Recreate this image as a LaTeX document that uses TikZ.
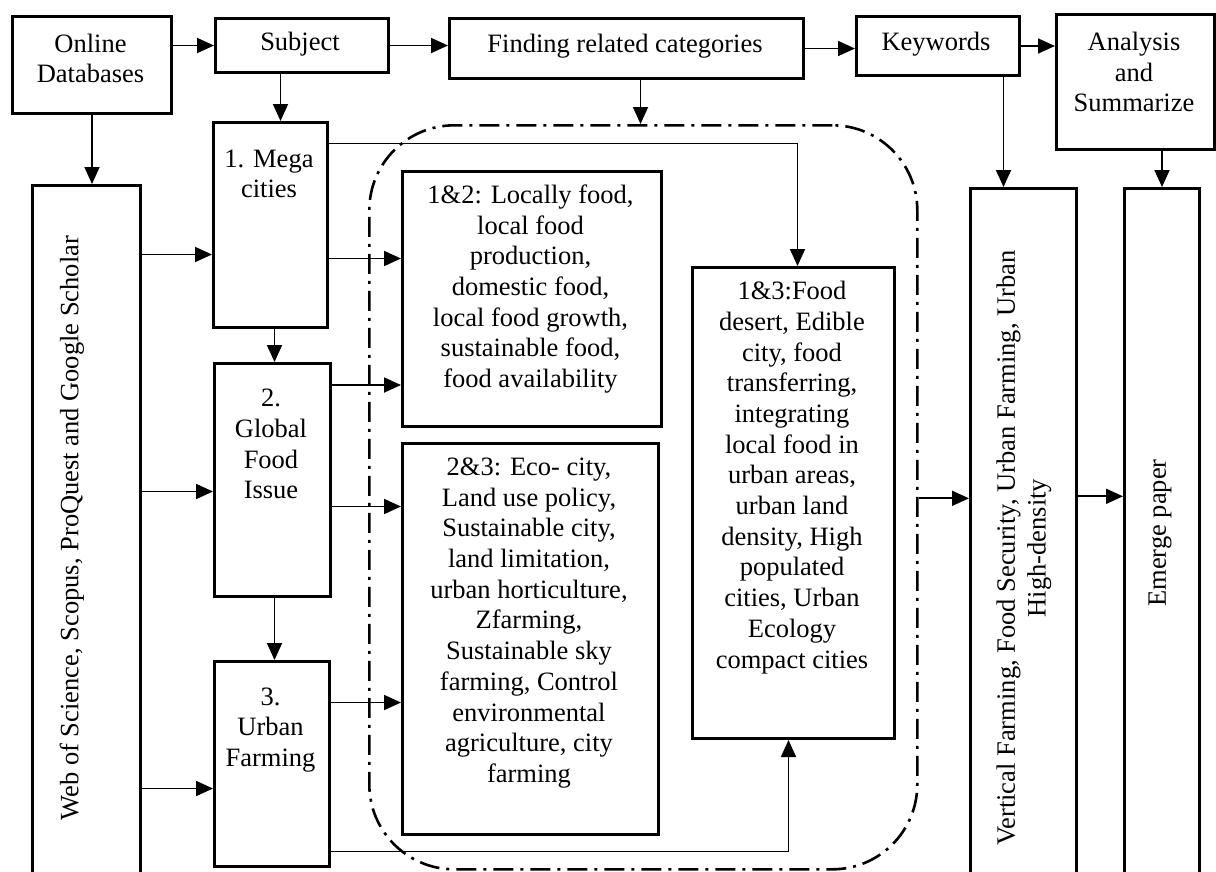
\documentclass[tikz,border=0pt]{standalone}
\usepackage{fontspec}
\setmainfont{Liberation Serif}
\usetikzlibrary{arrows.meta}
\begin{document}
\begin{tikzpicture}[x=1pt,y=-1pt,
  box/.style={draw, line width=3pt, inner sep=0pt, anchor=north west},
  txt/.style={align=center, inner sep=0pt, font=\fontsize{26.5}{30.7}\selectfont},
  arr/.style={line width=1.8pt, -{Triangle[length=17pt,width=15pt]}},
  dashbox/.style={draw, line width=2.6pt, rounded corners=85pt, inner sep=0pt, anchor=north west,
     dash pattern=on 20pt off 7pt on 3pt off 7pt}]
\useasboundingbox (0,0) rectangle (1216,871);
\clip (0,0) rectangle (1216,871);
\fill[white] (0,0) rectangle (1216,871);
% boxes
\node[box, minimum width=159pt, minimum height=97pt] (onl) at (11,15) {};
\node[box, minimum width=173pt, minimum height=54pt] (subj) at (214,17) {};
\node[box, minimum width=354pt, minimum height=60pt] (find) at (448,17) {};
\node[box, minimum width=163pt, minimum height=59pt] (key) at (855,15) {};
\node[box, minimum width=158pt, minimum height=135pt] (ana) at (1055,13) {};
\node[box, minimum width=114pt, minimum height=205pt] (mega) at (212,121) {};
\node[box, minimum width=116pt, minimum height=233pt] (glob) at (213,362) {};
\node[box, minimum width=115pt, minimum height=205pt] (urb) at (213,660) {};
\node[box, minimum width=259pt, minimum height=255pt] (b12) at (401,170) {};
\node[box, minimum width=256pt, minimum height=391pt] (b23) at (401,442) {};
\node[box, minimum width=202pt, minimum height=471pt] (b13) at (691,266) {};
\node[box, minimum width=108pt, minimum height=730pt] (wos) at (31,184) {};
\node[box, minimum width=106pt, minimum height=730pt] (vert) at (969,187) {};
\node[box, minimum width=75pt, minimum height=730pt] (emer) at (1123,187) {};
\node[dashbox, minimum width=548pt, minimum height=744pt] (dd) at (368,124) {};
% texts
\node[txt] (tonl) at (90.5,58.5) {Online\\Databases};
\node[txt] (tsubj) at (300,44) {Subject};
\node[txt] (tfind) at (625,46) {Finding related categories};
\node[txt] (tkey) at (936,44) {Keywords};
\node[txt] (tana) at (1134,72) {Analysis\\and\\Summarize};
\node[txt] (tmega) at (269,174) {1. Mega\\cities};
\node[txt] (tglob) at (271,444) {2.\\Global\\Food\\Issue};
\node[txt] (turb) at (270.5,730) {3.\\Urban\\Farming};
\node[txt] (t12) at (530.5,289) {1\&2: Locally food,\\local food\\production,\\domestic food,\\local food growth,\\sustainable food,\\food availability};
\node[txt] (t23) at (529,623) {2\&3: Eco- city,\\Land use policy,\\Sustainable city,\\land limitation,\\urban horticulture,\\Zfarming,\\Sustainable sky\\farming, Control\\environmental\\agriculture, city\\farming};
\node[txt] (t13) at (792,477.5) {1\&3:Food\\desert, Edible\\city, food\\transferring,\\integrating\\local food in\\urban areas,\\urban land\\density, High\\populated\\cities, Urban\\Ecology\\compact cities};
\node[txt, rotate=90] (twos) at (72,528) {Web of Science, Scopus, ProQuest and Google Scholar};
\node[txt, rotate=90] (tvert) at (1024,548) {Vertical Farming, Food Security, Urban Farming, Urban\\High-density};
\node[txt, rotate=90] (temer) at (1160,533) {Emerge paper};
% coordinates for connector heights
\coordinate (m1) at ([yshift=-29.5pt]mega.west);
\coordinate (m2) at ([yshift=-33.5pt]mega.west);
\coordinate (m3) at ([yshift=81.5pt]mega.west);
\coordinate (g1) at ([yshift=-11.5pt]glob.west);
\coordinate (g2) at ([yshift=95pt]glob.west);
\coordinate (g3) at ([yshift=-26.5pt]glob.west);
\coordinate (u1) at ([yshift=-24.5pt]urb.west);
\coordinate (u2) at ([yshift=61.5pt]urb.west);
\coordinate (u3) at ([yshift=-87.5pt]urb.west);
\coordinate (d1) at ([yshift=-1pt]dd.east);
\coordinate (v1) at ([yshift=1pt]dd.east);
% top row
\draw[arr] (onl.east |- subj.west) -- (subj.west);
\draw[arr] (subj.east) -- (subj.east -| find.west);
\draw[arr] (find.east) -- (find.east -| key.west);
\draw[arr] (key.east) -- (key.east -| ana.west);
% downward
\draw[arr] (onl.south) -- (onl.south |- wos.north);
\draw[arr] ([xshift=10pt]mega.north |- subj.south) -- ([xshift=10pt]mega.north);
\draw[arr] ([xshift=14pt]find.south) -- ([xshift=14pt]find.south |- dd.north);
\draw[arr] ([xshift=-20pt]vert.north |- key.south) -- ([xshift=-20pt]vert.north);
\draw[arr] (emer.north |- ana.south) -- (emer.north);
\draw[arr] ([xshift=4pt]mega.south) -- ([xshift=4pt]mega.south |- glob.north);
\draw[arr] ([xshift=2pt]glob.south) -- ([xshift=2pt]glob.south |- urb.north);
% from sources
\draw[arr] (wos.east |- m1) -- (m1);
\draw[arr] (wos.east |- g1) -- (g1);
\draw[arr] (wos.east |- u1) -- (u1);
% to categories
\draw[arr] (mega.east |- m2) -- (m2 -| b12.west);
\draw[arr] (glob.east |- g2) -- (g2 -| b12.west);
\draw[arr] (glob.east |- g3) -- (g3 -| b23.west);
\draw[arr] (urb.east |- u2) -- (u2 -| b23.west);
\draw[arr] (mega.east |- m3) -| ([xshift=4pt]b13.north);
\draw[arr] (urb.east |- u3) -| ([xshift=-5pt]b13.south);
% right part
\draw[arr] (d1) -- (d1 -| vert.west);
\draw[arr] (vert.east |- v1) -- (v1 -| emer.west);
\end{tikzpicture}
\end{document}
